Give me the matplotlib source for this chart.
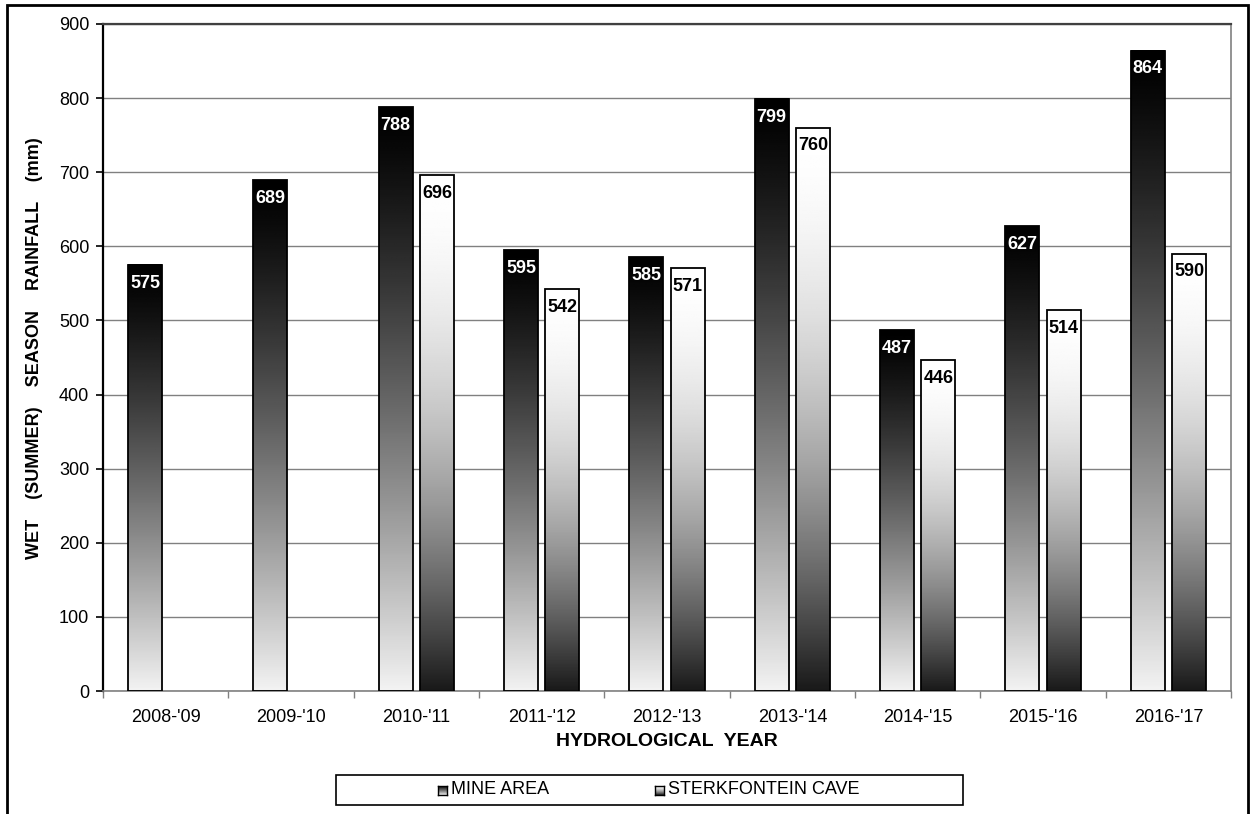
import matplotlib
matplotlib.use("Agg")
import matplotlib.pyplot as plt
import numpy as np
from matplotlib.patches import Rectangle

plt.rcParams['font.family'] = ['Liberation Sans', 'DejaVu Sans']

years = ["2008-'09", "2009-'10", "2010-'11", "2011-'12", "2012-'13",
         "2013-'14", "2014-'15", "2015-'16", "2016-'17"]
mine_area = [575, 689, 788, 595, 585, 799, 487, 627, 864]
sterkfontein_cave = [None, None, 696, 542, 571, 760, 446, 514, 590]
series_names = ["MINE AREA", "STERKFONTEIN CAVE"]

W, H = 1250, 814
fig = plt.figure(figsize=(W / 100, H / 100), dpi=100)
ax = fig.add_axes([103 / W, 1 - 691 / H, (1231 - 103) / W, (691 - 24) / H])

# vertical gradients (t=0 at top of the bar, t=1 at the bottom)
t = np.linspace(0, 1, 256)
mine_grad = (0.95 * t ** 1.25).reshape(-1, 1)
cave_grad = (1.0 - 0.9 * t ** 1.8).reshape(-1, 1)

bar_w = 0.27
offset = 0.165
x = np.arange(len(years))


def grad_bar(xc, h, grad, txt_color):
    x0, x1 = xc - bar_w / 2, xc + bar_w / 2
    ax.imshow(grad, cmap='gray', vmin=0, vmax=1, aspect='auto',
              extent=[x0, x1, 0, h], origin='upper', zorder=2,
              interpolation='bilinear')
    ax.add_patch(Rectangle((x0, 0), bar_w, h, facecolor='none',
                           edgecolor='black', lw=1.3, zorder=3))
    ax.annotate(str(h), (xc, h), xytext=(0, -7), textcoords='offset points',
                ha='center', va='top', fontsize=13, fontweight='bold',
                color=txt_color, zorder=4)


for i in x:
    grad_bar(i - offset, mine_area[i], mine_grad, 'white')
    if sterkfontein_cave[i] is not None:
        grad_bar(i + offset, sterkfontein_cave[i], cave_grad, 'black')

ax.set_xlim(-0.5, len(years) - 0.5)
ax.set_ylim(0, 900)
ax.set_yticks(np.arange(0, 901, 100))
ax.set_xticks(x)
ax.set_xticklabels(years, fontsize=13)
ax.set_xticks(np.arange(-0.5, len(years), 1), minor=True)
ax.tick_params(axis='x', which='major', length=0, pad=13)
ax.tick_params(axis='x', which='minor', length=5, color='#808080', width=1)
ax.tick_params(axis='y', labelsize=13, length=5, width=1.2, pad=5)
ax.yaxis.grid(True, color='#808080', lw=1)
ax.set_axisbelow(True)

for s in ['right', 'bottom']:
    ax.spines[s].set_color('#808080')
    ax.spines[s].set_linewidth(1.2)
ax.spines['top'].set_color('#404040')
ax.spines['top'].set_linewidth(1.6)
ax.spines['left'].set_color('black')
ax.spines['left'].set_linewidth(1.6)

fig.text(667 / W, 1 - 742 / H, "HYDROLOGICAL  YEAR", ha='center', va='center',
         fontsize=14, fontweight='bold')
fig.text(35 / W, 1 - 348 / H, "WET    (SUMMER)    SEASON    RAINFALL    (mm)",
         ha='center', va='center', rotation=90, fontsize=13, fontweight='bold')

# legend box
fig.add_artist(Rectangle((336 / W, 1 - 805 / H), (963 - 336) / W, 30 / H,
                         transform=fig.transFigure, facecolor='white',
                         edgecolor='black', lw=1.2, zorder=1))
for mx, grad, name in [(438, mine_grad, series_names[0]),
                       (655, cave_grad, series_names[1])]:
    max_ = fig.add_axes([mx / W, 1 - 795 / H, 9 / W, 9 / H], zorder=5)
    max_.imshow(grad, cmap='gray', vmin=0, vmax=1, aspect='auto')
    max_.set_xticks([])
    max_.set_yticks([])
    for sp in max_.spines.values():
        sp.set_linewidth(1)
    fig.text((mx + 13) / W, 1 - 790 / H, name, ha='left', va='center',
             fontsize=13, zorder=6)

# outer frame
fig.add_artist(Rectangle((7 / W, -0.05), (1248 - 7) / W, 1 - 5 / H + 0.05,
                         transform=fig.transFigure, facecolor='none',
                         edgecolor='black', lw=2, clip_on=False))

fig.savefig("out.png", dpi=100)
